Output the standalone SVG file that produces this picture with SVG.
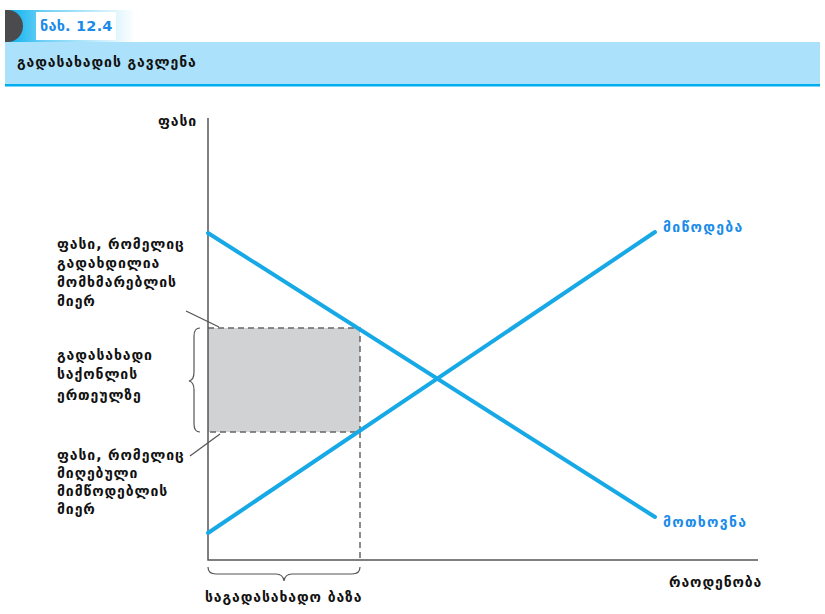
<svg xmlns="http://www.w3.org/2000/svg" width="825" height="614" viewBox="0 0 825 614">
<defs>
<linearGradient id="hg" x1="0" y1="0" x2="1" y2="0">
<stop offset="0" stop-color="#00aeef"/>
<stop offset="0.3" stop-color="#6fd0f5"/>
<stop offset="1" stop-color="#ffffff"/>
</linearGradient>
<style>
.t{font-family:"DejaVu Sans","Noto Sans",sans-serif;font-weight:bold;font-size:14px;letter-spacing:0.9px;fill:#111}
.b{fill:#1a8be8}
.curve{stroke:#17a9e6;stroke-width:4;fill:none;stroke-linecap:round}
.axis{stroke:#555;stroke-width:1.5;fill:none}
.dash{stroke:#666;stroke-width:1.5;stroke-dasharray:6 4;fill:none}
.lead{stroke:#555;stroke-width:1.2;fill:none}
</style>
</defs>
<rect width="825" height="614" fill="#fff"/>
<g id="header">
<rect x="5" y="10" width="130" height="32" fill="url(#hg)"/>
<rect x="36" y="12" width="80" height="28" fill="#fff"/>
<path d="M5 10 H8 A15 16 0 0 1 8 42 H5 Z" fill="#4b4b4d"/>
<text x="40" y="31" class="t b" style="font-size:14.5px;letter-spacing:0.2px">ნახ. 12.4</text>
<rect x="5" y="42" width="815" height="42" fill="#abe1fa"/>
<rect x="5" y="84" width="815" height="2.5" fill="#00aeef"/>
<text x="17" y="67" class="t">გადასახადის გავლენა</text>
</g>
<g id="tax-area">
<rect x="208" y="328" width="152" height="104" fill="#d1d2d4"/>
<path class="dash" d="M208 328 H360 V432 H208 M360 432 V560"/>
</g>
<g id="axes">
<path class="axis" d="M208 118 V560 H758"/>
<text x="158" y="126" class="t">ფასი</text>
<text x="669" y="587" class="t">რაოდენობა</text>
</g>
<g id="supply">
<line class="curve" x1="208" y1="533" x2="655" y2="232"/>
<text x="663" y="232" class="t b" style="letter-spacing:1.3px">მიწოდება</text>
</g>
<g id="demand">
<line class="curve" x1="208" y1="233" x2="655" y2="517"/>
<text x="663" y="527" class="t b" style="letter-spacing:1.3px">მოთხოვნა</text>
</g>
<g id="connectors">
<path class="lead" d="M186 311 L219 327"/>
<path class="lead" d="M190 456 L220 434"/>
<path class="lead" d="M200 328 Q194 328 194 336 V372 Q194 380 189 381 Q194 382 194 390 V424 Q194 432 200 432"/>
<path class="lead" d="M208 567 Q208 574 216 574 H276 Q283 574 284 581 Q285 574 292 574 H352 Q360 574 360 567"/>
</g>
<g id="label-consumer">
<text class="t" x="57"><tspan x="57" y="249">ფასი, რომელიც</tspan><tspan x="57" y="268">გადახდილია</tspan><tspan x="57" y="287">მომხმარებლის</tspan><tspan x="57" y="306">მიერ</tspan></text>
</g>
<g id="label-tax">
<text class="t" x="57"><tspan x="57" y="360">გადასახადი</tspan><tspan x="57" y="379">საქონლის</tspan><tspan x="57" y="400">ერთეულზე</tspan></text>
</g>
<g id="label-supplier">
<text class="t" x="57"><tspan x="57" y="460">ფასი, რომელიც</tspan><tspan x="57" y="478">მიღებული</tspan><tspan x="57" y="496">მიმწოდებლის</tspan><tspan x="57" y="514">მიერ</tspan></text>
</g>
<g id="label-base">
<text x="205" y="602" class="t">საგადასახადო ბაზა</text>
</g>
</svg>
